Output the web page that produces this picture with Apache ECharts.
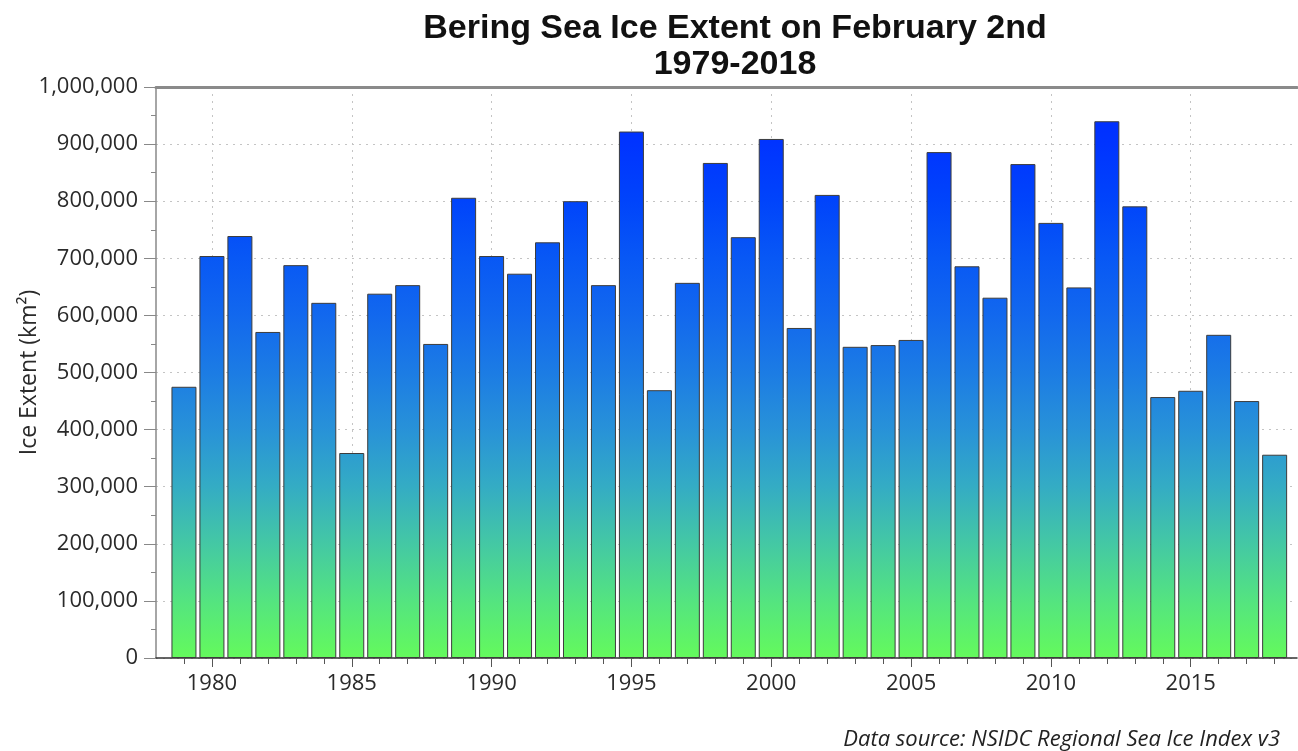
<!DOCTYPE html>
<html>
<head>
<meta charset="utf-8">
<script src="https://cdn.jsdelivr.net/npm/echarts@6/dist/echarts.min.js"></script>
<style>
html,body{margin:0;padding:0;background:#fff;}
#chart{width:1298px;height:751px;}
</style>
</head>
<body>
<div id="chart"></div>
<script>
const years = [1979,1980,1981,1982,1983,1984,1985,1986,1987,1988,1989,1990,1991,1992,1993,1994,1995,1996,1997,1998,1999,2000,2001,2002,2003,2004,2005,2006,2007,2008,2009,2010,2011,2012,2013,2014,2015,2016,2017,2018];
const iceExtent = [475000,704000,739000,571000,688000,622000,359000,638000,653000,550000,806000,704000,673000,728000,800000,653000,922000,469000,657000,867000,737000,909000,578000,811000,545000,548000,557000,886000,686000,631000,865000,762000,649000,940000,791000,457000,468000,566000,450000,356000];
const majorYears = [1980,1985,1990,1995,2000,2005,2010,2015];
const titleText = 'Bering Sea Ice Extent on February 2nd\n1979-2018';
const yAxisTitle = 'Ice Extent (km²)';
const sourceText = 'Data source: NSIDC Regional Sea Ice Index v3';

const chart = echarts.init(document.getElementById('chart'), null, {renderer:'canvas'});
const X_MIN = 1978, X_MAX = 2018.8;
const grad = new echarts.graphic.LinearGradient(0, 87, 0, 658, [
  {offset:0, color:'#0028ff'},
  {offset:0.1, color:'#0034ff'},
  {offset:0.2, color:'#0044fb'},
  {offset:0.3, color:'#0858f5'},
  {offset:0.4, color:'#1268ee'},
  {offset:0.5, color:'#1c7ce4'},
  {offset:0.6, color:'#2892d8'},
  {offset:0.7, color:'#34acc4'},
  {offset:0.8, color:'#44c8a4'},
  {offset:0.9, color:'#54e480'},
  {offset:1, color:'#64fa5c'}
], true);

const tickFont = {fontFamily:'Open Sans', fontSize:22, color:'#2a2a2a'};

chart.setOption({
  animation:false,
  backgroundColor:'#ffffff',
  title:[
    {text:titleText, left:730, top:6, textAlign:'center',
     textStyle:{fontFamily:'Liberation Sans', fontWeight:'bold', fontSize:34, lineHeight:36, color:'#111'}},
    {text:sourceText, right:13, top:724,
     textStyle:{fontFamily:'Open Sans', fontStyle:'italic', fontWeight:'normal', fontSize:22, color:'#222'}}
  ],
  grid:{left:156, right:1, top:87, bottom:93, containLabel:false, outerBoundsMode:'none'},
  xAxis:[
    {type:'value', min:X_MIN, max:X_MAX, position:'bottom',
     axisLine:{show:true, onZero:false, lineStyle:{color:'#333', width:1.5}},
     axisTick:{show:true, customValues:years, length:6, lineStyle:{color:'#555'}},
     axisLabel:{show:true, customValues:majorYears, margin:15, ...tickFont, formatter:v=>String(v)},
     splitLine:{show:false}},
    {type:'value', min:X_MIN, max:X_MAX, position:'bottom',
     axisLine:{show:false, onZero:false},
     axisTick:{show:true, customValues:majorYears, length:9, lineStyle:{color:'#555'}},
     axisLabel:{show:false},
     splitLine:{show:true, lineStyle:{color:'#c4c4c4', type:[2,5], width:1}}},
    {type:'value', min:X_MIN, max:X_MAX, position:'top',
     axisLine:{show:true, onZero:false, lineStyle:{color:'#8a8a8a', width:3}},
     axisTick:{show:false}, axisLabel:{show:false}, splitLine:{show:false}}
  ],
  yAxis:{
    type:'value', min:0, max:1000000, interval:100000,
    name:yAxisTitle, nameLocation:'middle', nameGap:115, nameRotate:90, nameMoveOverlap:false,
    nameTextStyle:{fontFamily:'Open Sans', fontSize:23, color:'#2a2a2a'},
    axisLine:{show:true, lineStyle:{color:'#888', width:1.5}},
    axisTick:{show:true, length:12, lineStyle:{color:'#888'}},
    minorTick:{show:true, splitNumber:2, length:5, lineStyle:{color:'#888'}},
    axisLabel:{margin:18, ...tickFont, formatter:v=>v.toLocaleString('en-US')},
    splitLine:{show:true, lineStyle:{color:'#c4c4c4', type:[2,5], width:1}}
  },
  series:[{
    type:'bar', xAxisIndex:0,
    data: years.map((y,i)=>[y, iceExtent[i]]),
    barWidth:25,
    itemStyle:{color:grad, borderColor:'#3c3c3c', borderWidth:1},
    z:3
  }]
});
</script>
</body>
</html>
